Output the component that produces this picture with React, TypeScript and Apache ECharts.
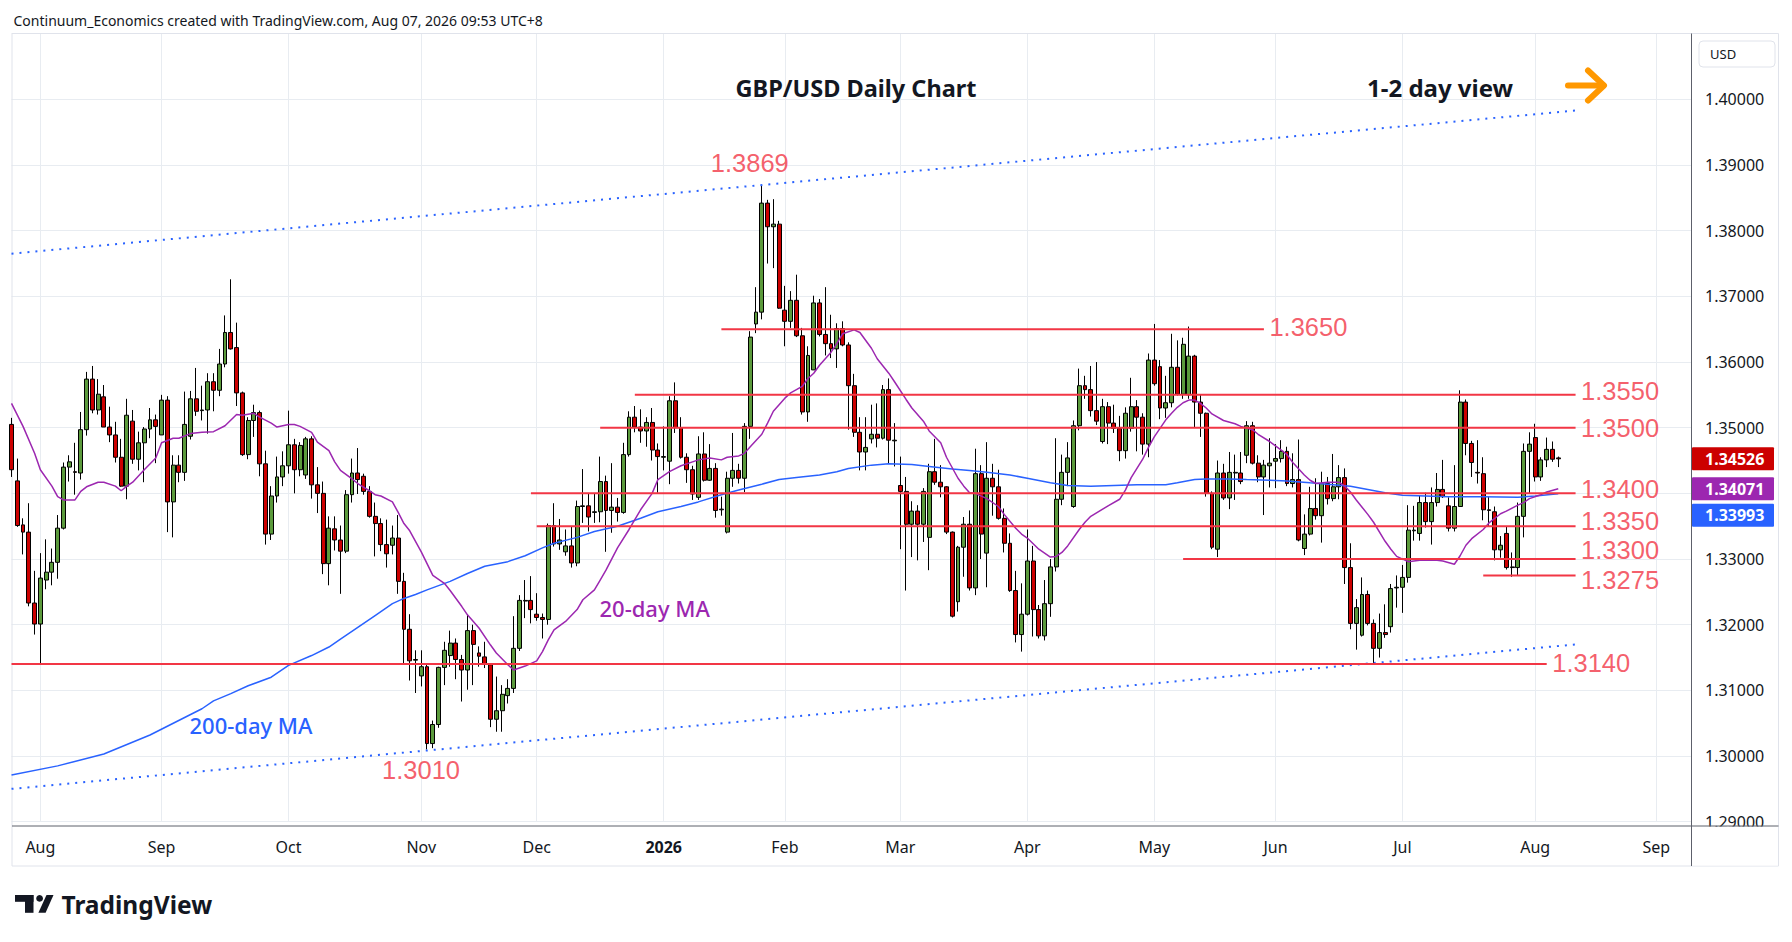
import React, { useEffect, useRef } from 'react';
import * as echarts from 'echarts';

const FONT = '"Noto Sans", "Open Sans", sans-serif';
const LABEL_FONT = '"Liberation Sans", Arial, sans-serif';
const GRID_COLOR = '#e8ecf1';
const RED_TXT = '#f23645';

const HOLIDAYS = ['2025-12-25', '2026-01-01'];
function buildDates(from: string, to: string): string[] {
  const out: string[] = [];
  const d = new Date(from + 'T00:00:00Z');
  const end = new Date(to + 'T00:00:00Z');
  while (d.getTime() <= end.getTime()) {
    const wd = d.getUTCDay();
    const s = d.toISOString().slice(0, 10);
    if (wd !== 0 && wd !== 6 && HOLIDAYS.indexOf(s) < 0) out.push(s);
    d.setUTCDate(d.getUTCDate() + 1);
  }
  return out;
}
const categories = buildDates('2025-07-25', '2026-09-09');

const monthTicks = ['2025-08-01', '2025-09-01', '2025-10-01', '2025-11-03', '2025-12-01', '2026-01-02', '2026-02-02', '2026-03-02', '2026-04-01', '2026-05-01', '2026-06-01', '2026-07-01', '2026-08-03', '2026-09-01'];
const monthLabels = ['Aug', 'Sep', 'Oct', 'Nov', 'Dec', '2026', 'Feb', 'Mar', 'Apr', 'May', 'Jun', 'Jul', 'Aug', 'Sep'];

// daily candles from 2025-07-25, each row: [open, close, low, high]
const candles: number[][] = [
  [1.3505,1.3436,1.3425,1.3515],[1.3419,1.3351,1.3349,1.3453],[1.3352,1.3341,1.3307,1.3362],[1.3341,1.3233,1.3228,1.3385],[1.3233,1.3201,1.3185,1.3282],
  [1.3201,1.3271,1.3141,1.3309],[1.3268,1.3280,1.3254,1.3330],[1.3280,1.3295,1.3260,1.3316],[1.3295,1.3347,1.3270,1.3367],[1.3347,1.3440,1.3345,1.3447],
  [1.3440,1.3448,1.3418,1.3458],[1.3433,1.3432,1.3398,1.3477],[1.3431,1.3497,1.3421,1.3524],[1.3497,1.3574,1.3488,1.3585],[1.3574,1.3527,1.3522,1.3594],
  [1.3527,1.3551,1.3520,1.3574],[1.3547,1.3501,1.3501,1.3565],[1.3501,1.3489,1.3478,1.3532],[1.3489,1.3455,1.3447,1.3509],[1.3455,1.3411,1.3410,1.3483],
  [1.3411,1.3519,1.3391,1.3544],[1.3510,1.3452,1.3445,1.3527],[1.3452,1.3477,1.3435,1.3494],[1.3477,1.3498,1.3417,1.3501],[1.3498,1.3512,1.3484,1.3530],
  [1.3512,1.3502,1.3446,1.3520],[1.3489,1.3542,1.3489,1.3550],[1.3542,1.3387,1.3341,1.3548],[1.3387,1.3443,1.3333,1.3458],[1.3443,1.3432,1.3417,1.3458],
  [1.3432,1.3505,1.3419,1.3555],[1.3487,1.3544,1.3482,1.3556],[1.3544,1.3525,1.3518,1.3591],[1.3526,1.3527,1.3511,1.3564],[1.3527,1.3570,1.3491,1.3583],
  [1.3570,1.3557,1.3525,1.3583],[1.3557,1.3597,1.3548,1.3620],[1.3597,1.3645,1.3592,1.3671],[1.3645,1.3620,1.3619,1.3726],[1.3622,1.3553,1.3533,1.3660],
  [1.3553,1.3459,1.3457,1.3555],[1.3459,1.3511,1.3452,1.3516],[1.3511,1.3523,1.3486,1.3535],[1.3523,1.3445,1.3426,1.3526],[1.3445,1.3338,1.3322,1.3465],
  [1.3338,1.3396,1.3329,1.3411],[1.3396,1.3425,1.3386,1.3456],[1.3425,1.3442,1.3411,1.3464],[1.3442,1.3474,1.3430,1.3526],[1.3474,1.3436,1.3400,1.3483],
  [1.3436,1.3473,1.3426,1.3478],[1.3428,1.3483,1.3422,1.3486],[1.3483,1.3413,1.3392,1.3487],[1.3413,1.3400,1.3370,1.3440],[1.3400,1.3293,1.3277,1.3418],
  [1.3293,1.3347,1.3260,1.3365],[1.3346,1.3329,1.3313,1.3365],[1.3329,1.3312,1.3247,1.3351],[1.3312,1.3398,1.3309,1.3405],[1.3398,1.3431,1.3386,1.3453],
  [1.3431,1.3421,1.3399,1.3469],[1.3426,1.3403,1.3398,1.3430],[1.3403,1.3365,1.3363,1.3411],[1.3365,1.3354,1.3304,1.3386],[1.3354,1.3322,1.3312,1.3362],
  [1.3322,1.3308,1.3287,1.3360],[1.3321,1.3332,1.3307,1.3351],[1.3332,1.3266,1.3247,1.3367],[1.3266,1.3193,1.3139,1.3279],[1.3193,1.3145,1.3115,1.3216],
  [1.3146,1.3147,1.3096,1.3161],[1.3122,1.3136,1.3106,1.3161],[1.3136,1.3019,1.3010,1.3139],[1.3019,1.3048,1.3012,1.3054],[1.3048,1.3135,1.3043,1.3136],
  [1.3135,1.3161,1.3108,1.3174],[1.3153,1.3172,1.3136,1.3191],[1.3172,1.3147,1.3117,1.3179],[1.3147,1.3131,1.3083,1.3154],[1.3131,1.3191,1.3101,1.3215],
  [1.3191,1.3170,1.3108,1.3200],[1.3157,1.3152,1.3136,1.3167],[1.3151,1.3140,1.3134,1.3174],[1.3139,1.3056,1.3044,1.3141],[1.3056,1.3069,1.3037,1.3121],
  [1.3069,1.3094,1.3037,1.3108],[1.3092,1.3103,1.3080,1.3117],[1.3103,1.3164,1.3096,1.3213],[1.3164,1.3237,1.3160,1.3245],[1.3236,1.3237,1.3210,1.3268],
  [1.3237,1.3223,1.3202,1.3274],[1.3216,1.3211,1.3206,1.3248],[1.3211,1.3208,1.3179,1.3217],[1.3208,1.3351,1.3200,1.3354],[1.3351,1.3323,1.3319,1.3385],
  [1.3323,1.3329,1.3314,1.3361],[1.3311,1.3320,1.3305,1.3345],[1.3320,1.3294,1.3287,1.3350],[1.3294,1.3380,1.3289,1.3389],[1.3380,1.3381,1.3355,1.3437],
  [1.3381,1.3364,1.3342,1.3400],[1.3371,1.3372,1.3355,1.3400],[1.3372,1.3418,1.3356,1.3456],[1.3418,1.3374,1.3311,1.3427],[1.3374,1.3379,1.3340,1.3446],
  [1.3379,1.3371,1.3357,1.3393],[1.3371,1.3459,1.3369,1.3477],[1.3459,1.3516,1.3456,1.3525],[1.3516,1.3501,1.3493,1.3533],[1.3501,1.3495,1.3477,1.3528],
  [1.3495,1.3508,1.3471,1.3516],[1.3508,1.3466,1.3450,1.3530],[1.3466,1.3456,1.3401,1.3476],[1.3455,1.3456,1.3435,1.3502],[1.3449,1.3541,1.3414,1.3548],
  [1.3541,1.3500,1.3492,1.3569],[1.3500,1.3455,1.3453,1.3516],[1.3455,1.3436,1.3416,1.3461],[1.3436,1.3399,1.3390,1.3442],[1.3394,1.3460,1.3390,1.3487],
  [1.3460,1.3420,1.3418,1.3493],[1.3420,1.3438,1.3419,1.3475],[1.3438,1.3374,1.3363,1.3446],[1.3375,1.3376,1.3366,1.3395],[1.3341,1.3423,1.3339,1.3433],
  [1.3423,1.3435,1.3410,1.3492],[1.3435,1.3423,1.3415,1.3445],[1.3423,1.3502,1.3402,1.3507],[1.3502,1.3638,1.3483,1.3647],[1.3658,1.3676,1.3644,1.3714],
  [1.3676,1.3842,1.3665,1.3869],[1.3842,1.3806,1.3750,1.3847],[1.3806,1.3810,1.3743,1.3848],[1.3810,1.3682,1.3681,1.3815],[1.3679,1.3662,1.3624,1.3716],
  [1.3662,1.3694,1.3652,1.3708],[1.3694,1.3640,1.3638,1.3733],[1.3640,1.3524,1.3520,1.3652],[1.3524,1.3610,1.3509,1.3624],[1.3588,1.3690,1.3588,1.3701],
  [1.3690,1.3642,1.3639,1.3696],[1.3642,1.3628,1.3610,1.3714],[1.3628,1.3620,1.3606,1.3672],[1.3620,1.3651,1.3591,1.3659],[1.3651,1.3626,1.3624,1.3662],
  [1.3626,1.3564,1.3497,1.3630],[1.3564,1.3493,1.3486,1.3582],[1.3493,1.3463,1.3435,1.3516],[1.3463,1.3470,1.3435,1.3516],[1.3483,1.3490,1.3476,1.3535],
  [1.3490,1.3484,1.3470,1.3537],[1.3484,1.3558,1.3482,1.3565],[1.3558,1.3481,1.3445,1.3575],[1.3480,1.3481,1.3441,1.3507],[1.3412,1.3403,1.3315,1.3456],
  [1.3403,1.3353,1.3252,1.3425],[1.3353,1.3373,1.3303,1.3388],[1.3373,1.3353,1.3298,1.3382],[1.3353,1.3403,1.3326,1.3408],[1.3333,1.3433,1.3283,1.3445],
  [1.3433,1.3417,1.3413,1.3483],[1.3417,1.3410,1.3394,1.3443],[1.3410,1.3341,1.3338,1.3411],[1.3341,1.3213,1.3211,1.3342],[1.3235,1.3318,1.3220,1.3320],
  [1.3318,1.3353,1.3273,1.3364],[1.3353,1.3256,1.3252,1.3374],[1.3256,1.3430,1.3245,1.3468],[1.3430,1.3338,1.3300,1.3443],[1.3309,1.3423,1.3257,1.3478],
  [1.3423,1.3410,1.3366,1.3445],[1.3410,1.3362,1.3360,1.3436],[1.3362,1.3324,1.3310,1.3377],[1.3324,1.3252,1.3250,1.3339],[1.3252,1.3185,1.3173,1.3282],
  [1.3185,1.3216,1.3159,1.3263],[1.3216,1.3297,1.3214,1.3345],[1.3297,1.3223,1.3182,1.3320],[1.3223,1.3183,1.3179,1.3230],[1.3183,1.3232,1.3176,1.3268],
  [1.3232,1.3288,1.3212,1.3300],[1.3288,1.3391,1.3281,1.3484],[1.3391,1.3432,1.3382,1.3459],[1.3432,1.3454,1.3411,1.3478],[1.3380,1.3503,1.3378,1.3511],
  [1.3503,1.3564,1.3496,1.3590],[1.3564,1.3558,1.3544,1.3579],[1.3558,1.3526,1.3517,1.3594],[1.3526,1.3510,1.3504,1.3600],[1.3479,1.3532,1.3476,1.3544],
  [1.3532,1.3507,1.3475,1.3539],[1.3507,1.3499,1.3492,1.3535],[1.3499,1.3465,1.3449,1.3518],[1.3465,1.3522,1.3453,1.3531],[1.3499,1.3532,1.3494,1.3576],
  [1.3532,1.3516,1.3464,1.3542],[1.3516,1.3475,1.3459,1.3522],[1.3475,1.3603,1.3455,1.3613],[1.3603,1.3567,1.3564,1.3658],[1.3593,1.3530,1.3513,1.3603],
  [1.3530,1.3538,1.3515,1.3579],[1.3538,1.3592,1.3531,1.3643],[1.3592,1.3551,1.3549,1.3633],[1.3551,1.3627,1.3544,1.3637],[1.3550,1.3609,1.3544,1.3654],
  [1.3609,1.3539,1.3501,1.3611],[1.3539,1.3522,1.3486,1.3550],[1.3522,1.3400,1.3395,1.3523],[1.3400,1.3318,1.3315,1.3403],[1.3315,1.3431,1.3303,1.3450],
  [1.3431,1.3393,1.3390,1.3445],[1.3393,1.3432,1.3376,1.3463],[1.3431,1.3432,1.3390,1.3459],[1.3431,1.3418,1.3414,1.3463],[1.3458,1.3503,1.3446,1.3510],
  [1.3503,1.3446,1.3444,1.3509],[1.3446,1.3425,1.3417,1.3458],[1.3425,1.3443,1.3367,1.3451],[1.3442,1.3446,1.3409,1.3484],[1.3449,1.3453,1.3408,1.3475],
  [1.3453,1.3464,1.3447,1.3481],[1.3464,1.3415,1.3411,1.3471],[1.3415,1.3421,1.3409,1.3461],[1.3421,1.3329,1.3327,1.3482],[1.3316,1.3338,1.3306,1.3368],
  [1.3338,1.3377,1.3336,1.3410],[1.3377,1.3366,1.3360,1.3423],[1.3366,1.3415,1.3325,1.3433],[1.3415,1.3392,1.3383,1.3425],[1.3392,1.3410,1.3388,1.3460],
  [1.3410,1.3424,1.3391,1.3443],[1.3424,1.3287,1.3262,1.3438],[1.3287,1.3202,1.3193,1.3324],[1.3202,1.3226,1.3162,1.3239],[1.3184,1.3246,1.3182,1.3272],
  [1.3246,1.3202,1.3199,1.3252],[1.3202,1.3164,1.3140,1.3208],[1.3164,1.3188,1.3150,1.3217],[1.3188,1.3185,1.3180,1.3231],[1.3197,1.3255,1.3188,1.3262],
  [1.3256,1.3257,1.3226,1.3275],[1.3257,1.3272,1.3218,1.3291],[1.3272,1.3344,1.3264,1.3382],[1.3343,1.3344,1.3328,1.3381],[1.3339,1.3386,1.3328,1.3396],
  [1.3386,1.3357,1.3348,1.3401],[1.3357,1.3386,1.3322,1.3409],[1.3386,1.3406,1.3380,1.3431],[1.3406,1.3395,1.3393,1.3451],[1.3381,1.3347,1.3342,1.3394],
  [1.3347,1.3380,1.3342,1.3443],[1.3380,1.3539,1.3380,1.3557],[1.3539,1.3476,1.3458,1.3543],[1.3476,1.3447,1.3425,1.3480],[1.3432,1.3431,1.3415,1.3481],
  [1.3430,1.3375,1.3359,1.3455],[1.3375,1.3374,1.3349,1.3395],[1.3372,1.3314,1.3298,1.3380],[1.3314,1.3321,1.3302,1.3335],[1.3339,1.3287,1.3284,1.3349],
  [1.3287,1.3288,1.3273,1.3310],[1.3287,1.3365,1.3275,1.3386],[1.3365,1.3464,1.3333,1.3476],[1.3464,1.3475,1.3400,1.3493],[1.3485,1.3425,1.3418,1.3506],
  [1.3425,1.3451,1.3419,1.3455],[1.3451,1.3467,1.3440,1.3485],[1.3467,1.3452,1.3448,1.3479],[1.3454,1.34526,1.3440,1.3456],
];

const ma20: [string, number][] = [
  ['2025-07-25',1.3537],['2025-07-29',1.3502],['2025-07-31',1.3461],['2025-08-01',1.3436],['2025-08-05',1.3411],['2025-08-06',1.3395],['2025-08-07',1.3390],
  ['2025-08-11',1.3390],['2025-08-12',1.3403],['2025-08-13',1.3410],['2025-08-15',1.3417],['2025-08-18',1.3417],['2025-08-20',1.3411],['2025-08-21',1.3404],
  ['2025-08-22',1.3411],['2025-08-25',1.3417],['2025-08-27',1.3436],['2025-08-29',1.3454],['2025-09-01',1.3477],['2025-09-03',1.3484],['2025-09-04',1.3484],
  ['2025-09-08',1.3491],['2025-09-10',1.3493],['2025-09-12',1.3494],['2025-09-16',1.3503],['2025-09-18',1.3520],['2025-09-19',1.3519],['2025-09-23',1.3522],
  ['2025-09-24',1.3516],['2025-09-26',1.3507],['2025-09-29',1.3501],['2025-10-01',1.3505],['2025-10-02',1.3505],['2025-10-03',1.3502],['2025-10-07',1.3493],
  ['2025-10-08',1.3478],['2025-10-10',1.3465],['2025-10-13',1.3448],['2025-10-14',1.3435],['2025-10-16',1.3422],['2025-10-17',1.3415],['2025-10-21',1.3404],
  ['2025-10-22',1.3398],['2025-10-23',1.3396],['2025-10-27',1.3387],['2025-10-28',1.3371],['2025-10-29',1.3354],['2025-10-30',1.3343],['2025-11-03',1.3311],
  ['2025-11-05',1.3275],['2025-11-07',1.3263],['2025-11-10',1.3252],['2025-11-12',1.3228],['2025-11-13',1.3215],['2025-11-17',1.3195],['2025-11-19',1.3169],
  ['2025-11-20',1.3157],['2025-11-24',1.3139],['2025-11-25',1.3131],['2025-11-27',1.3137],['2025-12-01',1.3145],['2025-12-02',1.3159],['2025-12-03',1.3177],
  ['2025-12-04',1.3192],['2025-12-08',1.3205],['2025-12-10',1.3223],['2025-12-11',1.3238],['2025-12-15',1.3253],['2025-12-16',1.3268],['2025-12-17',1.3283],
  ['2025-12-19',1.3317],['2025-12-23',1.3345],['2025-12-26',1.3375],['2025-12-30',1.3400],['2025-12-31',1.3421],['2026-01-05',1.3433],['2026-01-07',1.3442],
  ['2026-01-09',1.3448],['2026-01-12',1.3451],['2026-01-14',1.3454],['2026-01-16',1.3451],['2026-01-19',1.3455],['2026-01-21',1.3457],['2026-01-22',1.3461],
  ['2026-01-23',1.3471],['2026-01-27',1.3490],['2026-01-28',1.3507],['2026-01-29',1.3525],['2026-01-30',1.3535],['2026-02-02',1.3545],['2026-02-03',1.3553],
  ['2026-02-04',1.3558],['2026-02-05',1.3563],['2026-02-06',1.3575],['2026-02-09',1.3583],['2026-02-10',1.3595],['2026-02-12',1.3615],['2026-02-13',1.3628],
  ['2026-02-16',1.3643],['2026-02-18',1.3649],['2026-02-19',1.3645],['2026-02-23',1.3621],['2026-02-24',1.3605],['2026-02-26',1.3583],['2026-02-27',1.3570],
  ['2026-03-03',1.3543],['2026-03-04',1.3530],['2026-03-06',1.3510],['2026-03-09',1.3495],['2026-03-11',1.3477],['2026-03-12',1.3455],['2026-03-16',1.3423],
  ['2026-03-17',1.3411],['2026-03-18',1.3401],['2026-03-19',1.3400],['2026-03-23',1.3392],['2026-03-25',1.3380],['2026-03-26',1.3368],['2026-03-30',1.3347],
  ['2026-03-31',1.3338],['2026-04-01',1.3332],['2026-04-03',1.3315],['2026-04-07',1.3303],['2026-04-08',1.3304],['2026-04-09',1.3310],['2026-04-10',1.3320],
  ['2026-04-14',1.3345],['2026-04-15',1.3356],['2026-04-16',1.3365],['2026-04-21',1.3381],['2026-04-23',1.3391],['2026-04-24',1.3405],['2026-04-27',1.3424],
  ['2026-04-28',1.3438],['2026-04-29',1.3452],['2026-04-30',1.3470],['2026-05-01',1.3486],['2026-05-04',1.3499],['2026-05-05',1.3512],['2026-05-06',1.3522],
  ['2026-05-07',1.3531],['2026-05-08',1.3538],['2026-05-11',1.3542],['2026-05-12',1.3542],['2026-05-13',1.3537],['2026-05-14',1.3530],['2026-05-15',1.3521],
  ['2026-05-19',1.3511],['2026-05-21',1.3506],['2026-05-22',1.3502],['2026-05-26',1.3497],['2026-05-27',1.3490],['2026-05-29',1.3479],['2026-06-02',1.3466],
  ['2026-06-03',1.3459],['2026-06-04',1.3447],['2026-06-08',1.3428],['2026-06-09',1.3420],['2026-06-10',1.3415],['2026-06-12',1.3417],['2026-06-16',1.3417],
  ['2026-06-17',1.3411],['2026-06-18',1.3402],['2026-06-19',1.3390],['2026-06-23',1.3368],['2026-06-24',1.3356],['2026-06-26',1.3327],['2026-06-29',1.3315],
  ['2026-06-30',1.3304],['2026-07-02',1.3296],['2026-07-06',1.3298],['2026-07-09',1.3298],['2026-07-10',1.3297],['2026-07-14',1.3292],['2026-07-15',1.3305],
  ['2026-07-16',1.3321],['2026-07-17',1.3331],['2026-07-21',1.3345],['2026-07-22',1.3355],['2026-07-24',1.3369],['2026-07-27',1.3373],['2026-07-29',1.3382],
  ['2026-07-30',1.3386],['2026-07-31',1.3392],['2026-08-04',1.3398],['2026-08-05',1.3402],['2026-08-07',1.34071],
];

const ma200: [string, number][] = [
  ['2025-07-25',1.2971],['2025-08-06',1.2985],['2025-08-18',1.3003],['2025-08-28',1.3032],['2025-09-10',1.3072],['2025-09-12',1.3084],['2025-09-17',1.3095],
  ['2025-09-22',1.3107],['2025-09-26',1.3120],['2025-10-01',1.3138],['2025-10-07',1.3153],['2025-10-10',1.3166],['2025-10-14',1.3178],['2025-10-17',1.3196],
  ['2025-10-22',1.3214],['2025-10-27',1.3232],['2025-10-29',1.3240],['2025-10-31',1.3246],['2025-11-04',1.3253],['2025-11-10',1.3266],['2025-11-13',1.3278],
  ['2025-11-18',1.3289],['2025-11-24',1.3296],['2025-11-27',1.3305],['2025-12-02',1.3317],['2025-12-04',1.3324],['2025-12-10',1.3333],['2025-12-15',1.3342],
  ['2025-12-19',1.3350],['2025-12-26',1.3362],['2025-12-31',1.3372],['2026-01-07',1.3380],['2026-01-12',1.3387],['2026-01-16',1.3398],['2026-01-21',1.3405],
  ['2026-01-27',1.3414],['2026-01-30',1.3421],['2026-02-04',1.3424],['2026-02-10',1.3428],['2026-02-13',1.3433],['2026-02-17',1.3438],['2026-02-23',1.3443],
  ['2026-02-26',1.3445],['2026-03-04',1.3444],['2026-03-09',1.3441],['2026-03-13',1.3437],['2026-03-18',1.3435],['2026-03-23',1.3432],['2026-03-27',1.3428],
  ['2026-04-01',1.3423],['2026-04-07',1.3416],['2026-04-10',1.3412],['2026-04-16',1.3411],['2026-04-22',1.3412],['2026-04-28',1.3413],['2026-05-05',1.3413],
  ['2026-05-07',1.3416],['2026-05-12',1.3421],['2026-05-14',1.3422],['2026-05-20',1.3422],['2026-05-25',1.3421],['2026-05-29',1.3420],['2026-06-03',1.3419],
  ['2026-06-09',1.3416],['2026-06-12',1.3414],['2026-06-18',1.3411],['2026-06-23',1.3406],['2026-06-26',1.3401],['2026-07-01',1.3397],['2026-07-07',1.3396],
  ['2026-07-13',1.3395],['2026-07-21',1.3395],['2026-07-29',1.3394],['2026-08-03',1.3396],['2026-08-07',1.33993],
];

// support / resistance levels
const levels = [1.3650, 1.3550, 1.3500, 1.3400, 1.3350, 1.3300, 1.3275, 1.3140];
const levelStart = ['2026-01-16', '2025-12-24', '2025-12-16', '2025-11-28', '2025-12-01', '2026-05-08', '2026-07-21', '2025-07-25'];
const levelEnd = ['2026-05-28', '2026-08-12', '2026-08-12', '2026-08-12', '2026-08-12', '2026-08-12', '2026-08-12', '2026-08-05'];

// channel lines [start, end]
const channelUpper: [string, number][] = [['2025-07-25', 1.3765], ['2026-08-12', 1.3983]];
const channelLower: [string, number][] = [['2025-07-25', 1.2950], ['2026-08-12', 1.3170]];

// extreme points labelled
const highPoint: [string, number] = ['2026-01-27', 1.3869];
const lowPoint: [string, number] = ['2025-11-04', 1.3010];

const labelDy = [-2, -4, 0, -4, -5, -9, 5, -1];

export default function App() {
  const ref = useRef<HTMLDivElement>(null);
  useEffect(() => {
    if (!ref.current) return;
    const chart = echarts.init(ref.current, undefined, { renderer: 'svg' });
    const tickSet = new Set(monthTicks);

    const redLabel = {
      color: RED_TXT,
      fontSize: 25.5,
      fontWeight: 'normal',
      lineHeight: 22,
      fontFamily: LABEL_FONT,
    };

    const srSeries: any[] = levels.map((v, i) => ({
      type: 'line',
      data: [[levelStart[i], v], [levelEnd[i], v]],
      showSymbol: false,
      silent: true,
      z: 5,
      lineStyle: { color: '#f23645', width: 2 },
    }));
    const srLabels = {
      type: 'scatter',
      silent: true,
      z: 7,
      symbolSize: 0.1,
      itemStyle: { color: 'transparent' },
      data: levels.map((v, i) => ({
        value: [levelEnd[i], v],
        label: {
          show: true,
          position: 'inside',
          align: 'left',
          verticalAlign: 'middle',
          offset: [5.5, labelDy[i]],
          formatter: v.toFixed(4),
          ...redLabel,
        },
      })),
    };
    const extremeLabels = {
      type: 'scatter',
      silent: true,
      z: 7,
      symbolSize: 0.1,
      itemStyle: { color: 'transparent' },
      data: [
        { value: highPoint, label: { show: true, position: 'inside', align: 'center', verticalAlign: 'middle', offset: [-12, -22], formatter: highPoint[1].toFixed(4), ...redLabel } },
        { value: lowPoint, label: { show: true, position: 'inside', align: 'center', verticalAlign: 'middle', offset: [-6, 21], formatter: lowPoint[1].toFixed(4), ...redLabel } },
      ],
    };

    const option: any = {
      animation: false,
      backgroundColor: '#ffffff',
      grid: { left: 11.5, right: 101, top: 33.7, bottom: 120.3 },
      xAxis: {
        type: 'category',
        data: categories,
        boundaryGap: false,
        axisLine: { show: false },
        axisTick: { show: false },
        axisLabel: {
          interval: (_i: number, v: string) => tickSet.has(v),
          formatter: (v: string) => {
            const k = monthTicks.indexOf(v);
            if (k < 0) return '';
            const t = monthLabels[k];
            return /^\d{4}$/.test(t) ? '{yr|' + t + '}' : t;
          },
          margin: 17,
          fontSize: 16,
          color: '#131722',
          fontFamily: FONT,
          rich: { yr: { fontWeight: 'bold', fontSize: 16, color: '#131722', fontFamily: FONT } },
        },
        splitLine: { show: true, interval: (_i: number, v: string) => tickSet.has(v), lineStyle: { color: GRID_COLOR, width: 1 } },
      },
      yAxis: {
        type: 'value',
        position: 'right',
        min: 1.29,
        max: 1.41,
        interval: 0.01,
        axisLine: { show: false },
        axisTick: { show: false },
        axisLabel: {
          margin: 14,
          fontSize: 16,
          color: '#131722',
          fontFamily: FONT,
          formatter: (v: number) => (Math.abs(v - 1.41) < 1e-6 || Math.abs(v - 1.34) < 1e-6 ? '' : v.toFixed(5)),
        },
        splitLine: { show: true, lineStyle: { color: GRID_COLOR, width: 1 } },
      },
      series: [
        {
          type: 'candlestick',
          data: candles.map((r) => [r[0], r[1], r[2], r[3]]),
          barWidth: 4.4,
          silent: true,
          z: 3,
          itemStyle: { color: '#5b9a3c', color0: '#cc0000', borderColor: '#000000', borderColor0: '#000000', borderColorDoji: '#000000', borderWidth: 1 },
        },
        { type: 'line', data: ma200, showSymbol: false, silent: true, z: 4, lineStyle: { color: '#2962ff', width: 1.5 } },
        { type: 'line', data: ma20, showSymbol: false, silent: true, z: 4, lineStyle: { color: '#9c27b0', width: 1.5 } },
        { type: 'line', data: channelUpper, showSymbol: false, silent: true, z: 5, lineStyle: { color: '#2962ff', width: 2, type: [2, 6] } },
        { type: 'line', data: channelLower, showSymbol: false, silent: true, z: 5, lineStyle: { color: '#2962ff', width: 2, type: [2, 6] } },
        ...srSeries,
        srLabels,
        extremeLabels,
      ],
    };
    chart.setOption(option);

    const lastClose = candles[candles.length - 1][1];
    const last20 = ma20[ma20.length - 1][1];
    const last200 = ma200[ma200.length - 1][1];
    const yc = chart.convertToPixel({ yAxisIndex: 0 }, lastClose) as number;
    const y20 = chart.convertToPixel({ yAxisIndex: 0 }, last20) as number;
    let y200 = chart.convertToPixel({ yAxisIndex: 0 }, last200) as number;
    const TH = 23;
    if (y200 - y20 < TH + 3.5) y200 = y20 + TH + 3.5;

    const tag = (y: number, val: number, color: string) => [
      { type: 'rect', z: 60, shape: { x: 1692, y: y - TH / 2, width: 82, height: TH, r: 1 }, style: { fill: color } },
      { type: 'text', z: 61, x: 1705, y, style: { text: val.toFixed(5), fill: '#ffffff', fontSize: 16, fontWeight: 'bold', fontFamily: FONT, align: 'left', verticalAlign: 'middle' } },
    ];

    const txt = (x: number, y: number, text: string, size: number, color: string, weight: any, align = 'left') => ({
      type: 'text', z: 60, x, y,
      style: { text, fill: color, fontSize: size, fontWeight: weight, fontFamily: FONT, align, verticalAlign: 'middle' },
    });

    chart.setOption({
      graphic: {
        elements: [
          { type: 'rect', z: 1, shape: { x: 12, y: 33.5, width: 1766.5, height: 832.5 }, style: { fill: 'none', stroke: '#e0e3eb', lineWidth: 1 } },
          { type: 'rect', z: 40, shape: { x: 1692, y: 826.5, width: 86, height: 39 }, style: { fill: '#ffffff' } },
          { type: 'line', z: 50, shape: { x1: 12, y1: 826, x2: 1778.5, y2: 826 }, style: { stroke: '#5d606b', lineWidth: 1 } },
          { type: 'line', z: 50, shape: { x1: 1691.5, y1: 33.5, x2: 1691.5, y2: 866 }, style: { stroke: '#5d606b', lineWidth: 1 } },
          { type: 'rect', z: 50, shape: { x: 1699, y: 41, width: 76, height: 26, r: 4 }, style: { fill: '#ffffff', stroke: '#e0e3eb', lineWidth: 1 } },
          txt(1710, 54, 'USD', 13, '#131722', 'normal'),
          txt(13.5, 20, 'Continuum_Economics created with TradingView.com, Aug 07, 2026 09:53 UTC+8', 14, '#131722', 'normal'),
          txt(856, 88, 'GBP/USD Daily Chart', 23.5, '#131722', 'bold', 'center'),
          txt(1367, 87, '1-2 day view', 24, '#131722', 'bold'),
          { type: 'polyline', z: 60, shape: { points: [[1568, 85.5], [1602, 85.5]] }, style: { stroke: '#ff9800', lineWidth: 6, lineCap: 'round', fill: null } },
          { type: 'polyline', z: 60, shape: { points: [[1588, 70.5], [1604, 85.5], [1588, 100.5]] }, style: { stroke: '#ff9800', lineWidth: 6, lineCap: 'round', lineJoin: 'round', fill: null } },
          txt(599.5, 608, '20-day MA', 22, '#9c27b0', 500),
          txt(189.5, 725, '200-day MA', 22, '#2962ff', 500),
          ...tag(yc, lastClose, '#cc0000'),
          ...tag(y20, last20, '#9c27b0'),
          ...tag(y200, last200, '#2962ff'),
          { type: 'rect', z: 60, shape: { x: 15, y: 895, width: 18.5, height: 6.8 }, style: { fill: '#131722' } },
          { type: 'rect', z: 60, shape: { x: 25, y: 895, width: 8.5, height: 17.8 }, style: { fill: '#131722' } },
          { type: 'circle', z: 60, shape: { cx: 39.6, cy: 898.4, r: 3.4 }, style: { fill: '#131722' } },
          { type: 'polygon', z: 60, shape: { points: [[46.5, 895], [53.5, 895], [45.6, 912.8], [38.4, 912.8]] }, style: { fill: '#131722' } },
          txt(61.5, 904, 'TradingView', 24.5, '#131722', 'bold'),
        ],
      },
    });

    return () => chart.dispose();
  }, []);

  return (
    <div
      ref={ref}
      style={{ position: 'fixed', left: 0, top: 0, width: '1792px', height: '942px', background: '#ffffff' }}
    />
  );
}
